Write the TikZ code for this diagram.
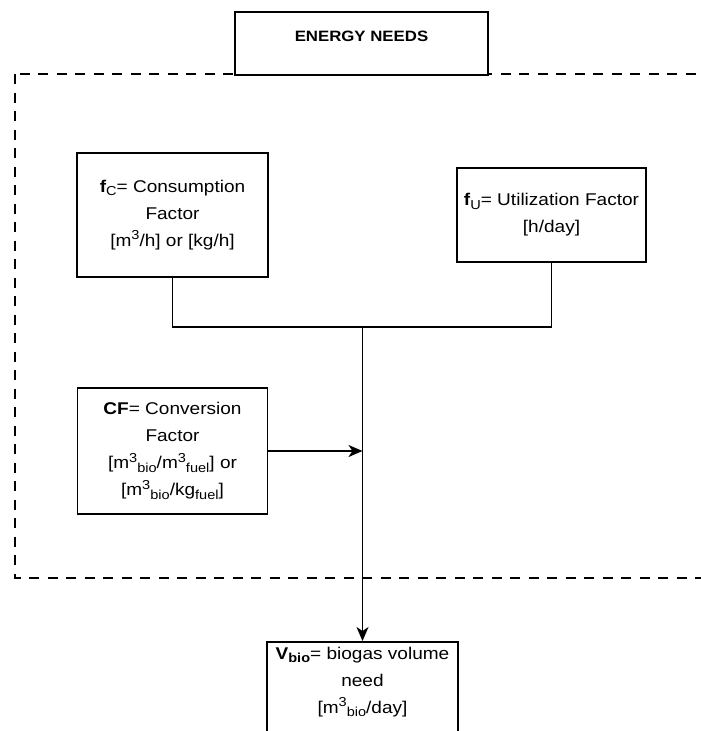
\documentclass[tikz,border=0pt]{standalone}
\usepackage{fontspec}
\setmainfont{Liberation Sans}[FakeStretch=1.12]
\usetikzlibrary{arrows.meta}

\tikzset{
  box/.style={draw, line width=1.4pt, fill=white, align=center, inner sep=0pt,
    font=\fontsize{17}{27}\selectfont},
  heavybox/.style={box, line width=2pt},
  txt/.style={align=center, inner sep=0pt, font=\fontsize{17}{27}\selectfont},
  region/.style={line width=2.6pt, dash pattern=on 10pt off 8.5pt},
  link/.style={line width=1.4pt},
  flow/.style={link, -{Stealth[length=14pt,width=12pt,inset=4pt]}}
}

% scripts set a little larger than the default ones
\newcommand{\sub}[1]{\raisebox{-0.35ex}{\fontsize{13}{13}\selectfont #1}}
\newcommand{\sups}[1]{\raisebox{0.75ex}{\fontsize{13}{13}\selectfont #1}}
\newcommand{\cube}{m\sups{3}}

\begin{document}
\begin{tikzpicture}[x=1pt,y=-1pt]
  \useasboundingbox (0,0) rectangle (701,731);
  \clip (0,0) rectangle (701,731);

  % dashed boundary of the energy-needs block
  \draw[region] (15,74) rectangle (730,578);

  % title
  \node[heavybox, minimum width=253pt, minimum height=63pt, text depth=14pt,
        font=\fontsize{15}{18}\selectfont\bfseries] (title) at (361.5,43.5) {ENERGY NEEDS};

  % input factors
  \node[box, minimum width=191pt, minimum height=124pt] (cons) at (172.5,215)
    {\textbf{f}\sub{C}= Consumption\\Factor\\{[}\cube/h] or [kg/h]};
  \node[box, minimum width=189pt, minimum height=94pt] (util) at (551.5,215)
    {\textbf{f}\sub{U}= Utilization Factor\\{[}h/day]};
  \node[box, minimum width=190pt, minimum height=126pt] (conv) at (172.5,451)
    {\textbf{CF}= Conversion\\Factor\\{[}\cube\sub{bio}/\cube\sub{fuel}] or\\{[}\cube\sub{bio}/kg\sub{fuel}]};

  % result
  \node[box, line width=2.4pt, minimum width=191pt, minimum height=130pt, anchor=north]
    (vbio) at (362.5,641) {};
  \node[txt, anchor=north] (vbiotext) at ([yshift=-6pt]vbio.north)
    {\textbf{V\sub{bio}}= biogas volume\\need\\{[}\cube\sub{bio}/day]};

  % connectors
  \coordinate (join) at (362.5,327);
  \draw[link] (cons.south) |- (join);
  \draw[link] (util.south) |- (join);
  \draw[flow] (join) -- (vbio.north);
  \draw[flow] (conv.east) -- (conv.east -| join);
\end{tikzpicture}
\end{document}
